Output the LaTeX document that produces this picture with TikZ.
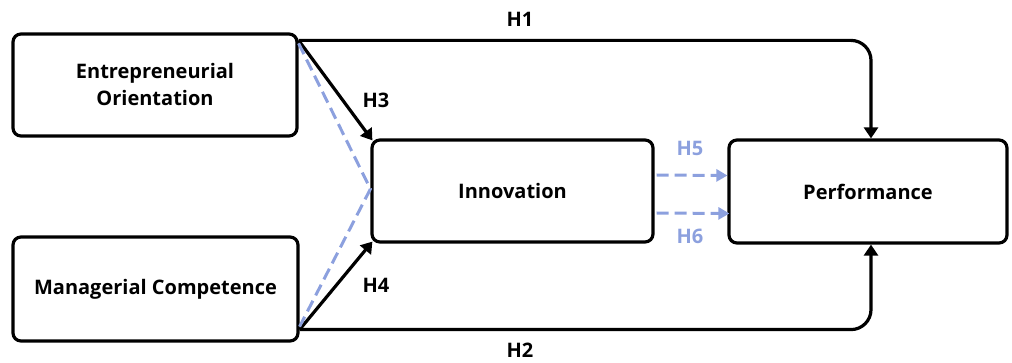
\documentclass[tikz,border=0pt]{standalone}
\usepackage{fontspec}
\setmainfont{Open Sans}
\usetikzlibrary{arrows.meta,calc}
\definecolor{linkblue}{RGB}{140,160,222}
\tikzset{
  box/.style={draw=black, line width=3.2pt, rounded corners=8pt, fill=white,
    align=center, inner sep=0pt, font=\fontsize{20}{27}\selectfont\bfseries},
  link/.style={line width=3.2pt, draw=black, -{Triangle[length=11pt,width=14pt]}},
  plain/.style={line width=3.2pt, draw=black, rounded corners=20pt},
  mediate/.style={line width=3pt, draw=linkblue, dash pattern=on 12pt off 6pt},
  mediatearrow/.style={mediate, -{Triangle[length=11pt,width=12pt]}},
  hlabel/.style={font=\fontsize{20}{24}\selectfont\bfseries, inner sep=0pt},
}
\begin{document}
\begin{tikzpicture}[x=1pt,y=-1pt]
\useasboundingbox (0,0) rectangle (1012,363);

% constructs
\node[box, minimum width=284pt, minimum height=102pt] (eo) at (155,85) {Entrepreneurial\\Orientation};
\node[box, minimum width=285pt, minimum height=104pt] (mc) at (155.5,289) {Managerial Competence};
\node[box, minimum width=281pt, minimum height=102pt] (inn) at (512.5,191) {Innovation};
\node[box, minimum width=278pt, minimum height=103pt] (perf) at (868,191.5) {Performance};

% anchor points on the box corners
\coordinate (eoA) at ($(eo.north east)+(0,8)$);
\coordinate (eoB) at ($(eo.north east)+(0,11)$);
\coordinate (mcA) at ($(mc.south east)+(0,-13)$);
\coordinate (mcB) at ($(mc.south east)+(0,-16)$);
\coordinate (innW) at ($(inn.west)+(0,-2)$);
\coordinate (p1) at (871,0 |- eoA);
\coordinate (p2) at (871,0 |- mcA);

% direct effects
\draw[plain, -{Triangle[length=11pt,width=14pt]}] (eoA) -- (p1) -- (p1 |- perf.north);
\draw[plain, -{Triangle[length=11pt,width=14pt]}] (mcA) -- (p2) -- (p2 |- perf.south);
\draw[link] (eoA) -- ($(inn.north west)+(2,2)$);
\draw[link] (mcA) -- ($(inn.south west)+(2,-2)$);

% mediation paths
\draw[mediate] (eoB) -- (innW) -- (mcB);
\draw[mediatearrow] ($(inn.east)+(2,-16)$) -- ($(perf.west)+(0,-16)$);
\draw[mediatearrow] ($(inn.east)+(2,22)$) -- ($(perf.west)+(2,22)$);

% hypothesis labels
\node[hlabel] (h1) at (520,19) {H1};
\node[hlabel] (h2) at (520,350) {H2};
\node[hlabel] (h3) at (376,100) {H3};
\node[hlabel] (h4) at (376,285) {H4};
\node[hlabel, text=linkblue] (h5) at (690,148) {H5};
\node[hlabel, text=linkblue] (h6) at (690,236) {H6};
\end{tikzpicture}
\end{document}
